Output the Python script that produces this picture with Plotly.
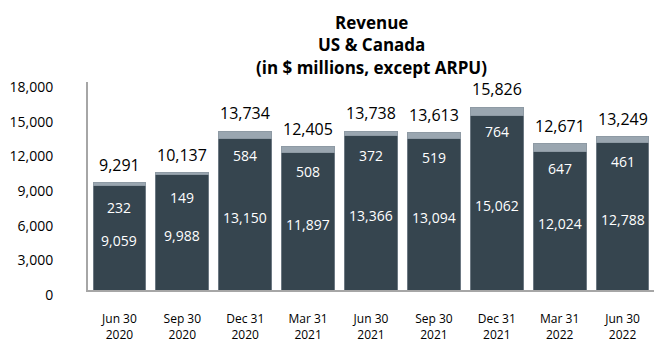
import plotly.graph_objects as go

categories = ["Jun 30<br>2020", "Sep 30<br>2020", "Dec 31<br>2020", "Mar 31<br>2021", "Jun 30<br>2021",
              "Sep 30<br>2021", "Dec 31<br>2021", "Mar 31<br>2022", "Jun 30<br>2022"]
streaming = [9059, 9988, 13150, 11897, 13366, 13094, 15062, 12024, 12788]
other = [232, 149, 584, 508, 372, 519, 764, 647, 461]
totals = [9291, 10137, 13734, 12405, 13738, 13613, 15826, 12671, 13249]
y_ticks = [0, 3000, 6000, 9000, 12000, 15000, 18000]

DARK = "#36454F"
LIGHT = "#9AA6B0"
FONT = "Open Sans"

fig = go.Figure()
fig.add_bar(x=categories, y=streaming, marker=dict(color=DARK, line=dict(color="#6C7882", width=1)),
            hoverinfo="skip")
fig.add_bar(x=categories, y=other, marker=dict(color=LIGHT, line=dict(color="#8E9AA4", width=1)),
            hoverinfo="skip")

ann = []
for c, s, o, t in zip(categories, streaming, other, totals):
    ann.append(dict(x=c, y=t, text=f"{t:,}", showarrow=False, yshift=18, yanchor="middle",
                    font=dict(family=FONT, size=16, color="#000")))
    ann.append(dict(x=c, y=t, text=f"{o:,}", showarrow=False, yshift=-24.5, yanchor="middle",
                    font=dict(family=FONT, size=14, color="#FFFFFF")))
    ann.append(dict(x=c, y=s / 2, text=f"{s:,}", showarrow=False, yshift=-3, yanchor="middle",
                    font=dict(family=FONT, size=14, color="#FFFFFF")))

for text, yp in [("Revenue", 1.284), ("US & Canada", 1.178), ("(in $ millions, except ARPU)", 1.072)]:
    ann.append(dict(x=0.5, xref="paper", xanchor="center", y=yp, yref="paper", yanchor="middle",
                    text=f"<b>{text}</b>", showarrow=False,
                    font=dict(family=FONT, size=17, color="#000")))

fig.update_layout(
    barmode="stack",
    bargap=0.16,
    width=668, height=352,
    margin=dict(l=88, r=14, t=82, b=62),
    plot_bgcolor="white", paper_bgcolor="white",
    showlegend=False,
    annotations=ann,
    font=dict(family=FONT, color="#000"),
)
fig.update_xaxes(showline=True, linecolor="#A6A6A6", linewidth=2, showgrid=False, automargin=False,
                 ticks="outside", ticklen=17, tickcolor="rgba(0,0,0,0)",
                 tickfont=dict(family=FONT, size=12, color="#000"))
fig.update_yaxes(range=[0, 18000], tickvals=y_ticks, ticktext=[f"{v:,}" for v in y_ticks],
                 showgrid=False, zeroline=False, showline=True, linecolor="#A6A6A6", linewidth=2,
                 automargin=False,
                 tickfont=dict(family=FONT, size=14, color="#000"), ticklabelstandoff=30,
                 ticklabelshift=5)

fig.write_html("out.html")
